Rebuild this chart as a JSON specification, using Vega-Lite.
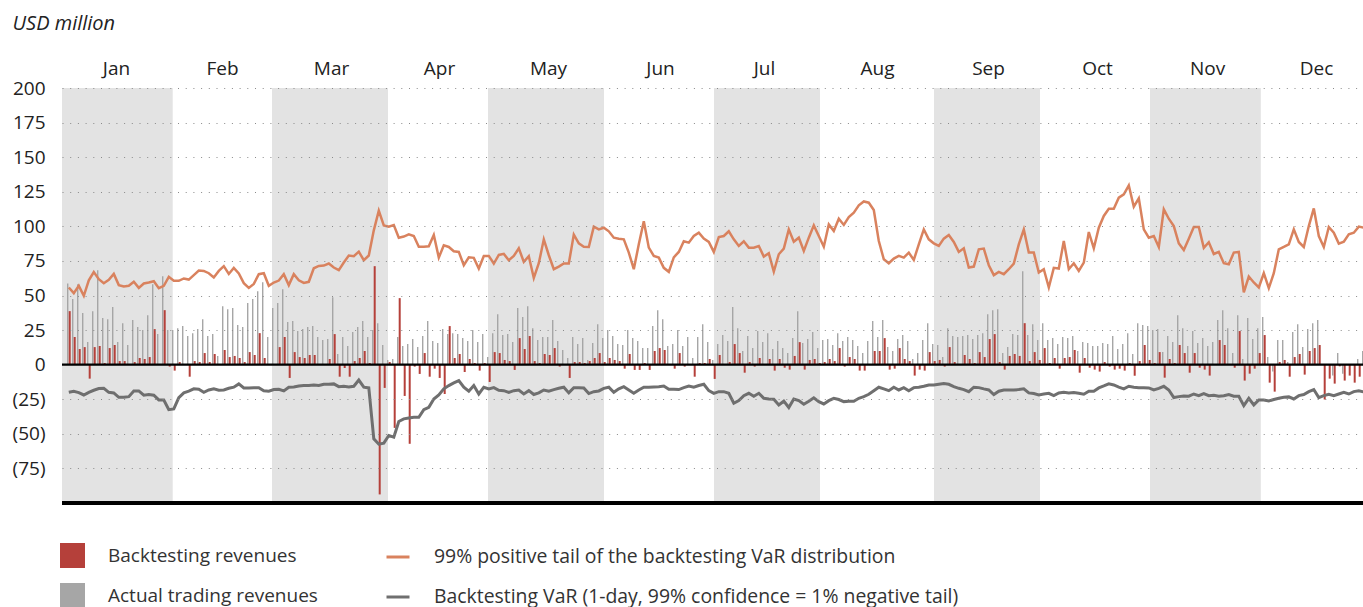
{
"$schema": "https://vega.github.io/schema/vega-lite/v6.json",
"autosize": "none",
"width": 1301,
"height": 415,
"padding": {"left": 62, "top": 88, "right": 0, "bottom": 104},
"config": {"view": {"stroke": null}, "font": "Open Sans"},
"datasets": {
"months": [{"d":-1.36,"d2":20.78},{"d":40.64,"d2":63.84},{"d":83.84,"d2":107.04},{"d":129.04,"d2":150.24},{"d":173.04,"d2":194.24},{"d":216.24,"d2":238.4}],
"refs": [{"r": 0}, {"r": -100}],
"days": [
{"d":0,"a":58.7,"b":38.7,"p":55.8,"v":-20},{"d":1,"a":47.4,"b":20.0,"p":51.7,"v":-19.2},{"d":2,"a":58.2,"b":11.3,"p":57,"v":-20.2},{"d":3,"a":37.3,"b":12.7,"p":49.8,"v":-21.9},{"d":4,"a":16.3,"b":-10.1,"p":61,"v":-20},{"d":5,"a":38.7,"b":12.7,"p":67,"v":-18.5},{"d":6,"a":68.3,"b":13.5,"p":61.8,"v":-17.3},{"d":7,"a":33.7,"b":1.2,"p":58.9,"v":-17.1},{"d":8,"a":32.9,"b":12.0,"p":61.3,"v":-20},{"d":9,"a":41.6,"b":14.2,"p":65.6,"v":-20.4},
{"d":10,"a":16.3,"b":2.6,"p":57.5,"v":-23.6},{"d":11,"a":30.0,"b":2.6,"p":56.5,"v":-23.6},{"d":12,"a":14.2,"b":0,"p":57,"v":-23.1},{"d":13,"a":32.2,"b":1.9,"p":59.9,"v":-19},{"d":14,"a":27.2,"b":4.8,"p":55.5,"v":-19},{"d":15,"a":25.0,"b":4.1,"p":58.7,"v":-22.1},{"d":16,"a":35.8,"b":5.5,"p":59.4,"v":-21.6},{"d":17,"a":58.2,"b":25.7,"p":60.3,"v":-22.1},{"d":18,"a":22.1,"b":0,"p":55.3,"v":-25.5},{"d":19,"a":63.9,"b":39.4,"p":57,"v":-25.5},
{"d":20,"a":25.0,"b":-1.4,"p":63.5,"v":-32.5},{"d":21,"a":25.0,"b":-4.3,"p":60.6,"v":-32},{"d":22,"a":26.4,"b":1.9,"p":60.6,"v":-23.8},{"d":23,"a":27.9,"b":0,"p":62.3,"v":-20.4},{"d":24,"a":20.7,"b":-8.7,"p":61.5,"v":-19.2},{"d":25,"a":22.8,"b":2.6,"p":64.7,"v":-17.5},{"d":26,"a":25.7,"b":1.9,"p":68,"v":-17.8},{"d":27,"a":32.9,"b":8.4,"p":67.8,"v":-20},{"d":28,"a":20.7,"b":1.9,"p":66.1,"v":-18.3},{"d":29,"a":22.1,"b":7.7,"p":63,"v":-17.5},
{"d":30,"a":6.3,"b":0,"p":67.8,"v":-18.5},{"d":31,"a":42.3,"b":10.6,"p":71.2,"v":-18.3},{"d":32,"a":40.1,"b":5.5,"p":65.6,"v":-17.1},{"d":33,"a":40.9,"b":6.3,"p":70,"v":-16.3},{"d":34,"a":28.6,"b":4.8,"p":65.9,"v":-13.9},{"d":35,"a":27.2,"b":1.9,"p":58.9,"v":-16.8},{"d":36,"a":44.5,"b":9.1,"p":55.5,"v":-16.8},{"d":37,"a":47.4,"b":7.0,"p":58.4,"v":-16.6},{"d":38,"a":53.1,"b":22.8,"p":65.4,"v":-16.6},{"d":39,"a":59.6,"b":4.8,"p":66.1,"v":-18.8},
{"d":40,"a":20.0,"b":0,"p":57,"v":-19.2},{"d":41,"a":40.9,"b":0,"p":59.4,"v":-18},{"d":42,"a":44.5,"b":12.7,"p":60.8,"v":-17.8},{"d":43,"a":54.6,"b":20.0,"p":65.4,"v":-19},{"d":44,"a":30.8,"b":-9.6,"p":57.5,"v":-16.3},{"d":45,"a":31.5,"b":9.1,"p":65.4,"v":-16.1},{"d":46,"a":24.3,"b":5.5,"p":61,"v":-15.4},{"d":47,"a":25.7,"b":4.8,"p":59.1,"v":-15.1},{"d":48,"a":27.2,"b":7.0,"p":59.9,"v":-15.1},{"d":49,"a":27.9,"b":7.0,"p":69.7,"v":-14.7},
{"d":50,"a":20.0,"b":0,"p":71.4,"v":-15.1},{"d":51,"a":17.8,"b":0,"p":71.6,"v":-14.2},{"d":52,"a":18.5,"b":4.1,"p":73.1,"v":-14.2},{"d":53,"a":48.8,"b":22.1,"p":70.2,"v":-13.9},{"d":54,"a":7.7,"b":-8.7,"p":68.3,"v":-15.9},{"d":55,"a":20.0,"b":-2.4,"p":73.8,"v":-15.6},{"d":56,"a":13.5,"b":-8.7,"p":78.9,"v":-16.1},{"d":57,"a":23.6,"b":2.6,"p":78.4,"v":-15.6},{"d":58,"a":27.2,"b":4.8,"p":81.7,"v":-11.1},{"d":59,"a":31.5,"b":9.9,"p":75.5,"v":-16.3},
{"d":60,"a":20.0,"b":1.2,"p":78.9,"v":-16.8},{"d":61,"a":25.0,"b":71.2,"p":97.1,"v":-53.6},{"d":62,"a":30.0,"b":-93.8,"p":111.3,"v":-57.5},{"d":63,"a":14.2,"b":-16.8,"p":100.7,"v":-56.7},{"d":64,"a":3.4,"b":1.9,"p":99.8,"v":-51.2},{"d":65,"a":4.1,"b":-45.7,"p":101,"v":-52.4},{"d":66,"a":20.0,"b":48.1,"p":91.8,"v":-41.1},{"d":67,"a":13.5,"b":-22.6,"p":92.6,"v":-39.2},{"d":68,"a":14.9,"b":-57.2,"p":94.2,"v":-38.5},{"d":69,"a":18.5,"b":-1.4,"p":93,"v":-38},
{"d":70,"a":12.7,"b":-6.7,"p":85.3,"v":-38},{"d":71,"a":20.7,"b":8.4,"p":85.3,"v":-32.5},{"d":72,"a":31.5,"b":-8.7,"p":85.6,"v":-30.8},{"d":73,"a":17.1,"b":-2.9,"p":93.8,"v":-24.8},{"d":74,"a":15.6,"b":-9.6,"p":77.4,"v":-21.9},{"d":75,"a":25.7,"b":-21.2,"p":86.3,"v":-17.5},{"d":76,"a":22.1,"b":27.9,"p":85.1,"v":-15.1},{"d":77,"a":22.8,"b":4.8,"p":82,"v":-13.2},{"d":78,"a":22.1,"b":7.7,"p":81.5,"v":-11.5},{"d":79,"a":19.2,"b":-5.3,"p":71.9,"v":-16.3},
{"d":80,"a":17.1,"b":4.1,"p":77.6,"v":-19.2},{"d":81,"a":25.0,"b":1.2,"p":77.2,"v":-15.1},{"d":82,"a":16.3,"b":-4.3,"p":69.5,"v":-21.2},{"d":83,"a":22.1,"b":1.2,"p":78.6,"v":-16.3},{"d":84,"a":5.5,"b":-12.5,"p":78.6,"v":-17.5},{"d":85,"a":22.8,"b":9.1,"p":73.1,"v":-16.6},{"d":86,"a":36.5,"b":8.4,"p":79.3,"v":-18.5},{"d":87,"a":21.4,"b":3.4,"p":80.1,"v":-18.8},{"d":88,"a":22.1,"b":2.6,"p":75.5,"v":-20},{"d":89,"a":16.3,"b":-3.8,"p":78.6,"v":-18.8},
{"d":90,"a":40.9,"b":19.2,"p":84.1,"v":-18.3},{"d":91,"a":34.4,"b":11.3,"p":74.3,"v":-21.2},{"d":92,"a":42.3,"b":20.7,"p":78.4,"v":-18.8},{"d":93,"a":26.4,"b":2.6,"p":62.7,"v":-21.6},{"d":94,"a":17.8,"b":1.2,"p":73.3,"v":-20.4},{"d":95,"a":20.0,"b":7.7,"p":90.6,"v":-18.3},{"d":96,"a":20.0,"b":7.0,"p":79.1,"v":-19.2},{"d":97,"a":32.2,"b":12.0,"p":69,"v":-18},{"d":98,"a":17.1,"b":-1.4,"p":70.9,"v":-17.1},{"d":99,"a":10.6,"b":0,"p":73.1,"v":-16.3},
{"d":100,"a":4.8,"b":-9.6,"p":73.1,"v":-20.4},{"d":101,"a":20.0,"b":1.9,"p":94,"v":-16.6},{"d":102,"a":14.9,"b":1.9,"p":87.7,"v":-16.6},{"d":103,"a":19.2,"b":1.2,"p":85.3,"v":-16.8},{"d":104,"a":3.4,"b":2.6,"p":85.1,"v":-20.9},{"d":105,"a":15.6,"b":4.8,"p":99.8,"v":-19.5},{"d":106,"a":29.3,"b":8.4,"p":97.8,"v":-19},{"d":107,"a":19.2,"b":1.9,"p":99,"v":-17.1},{"d":108,"a":25.0,"b":4.8,"p":96.4,"v":-16.3},{"d":109,"a":20.7,"b":3.4,"p":91.8,"v":-20},
{"d":110,"a":14.9,"b":2.6,"p":91.1,"v":-17.5},{"d":111,"a":14.2,"b":-2.9,"p":90.6,"v":-15.9},{"d":112,"a":25.0,"b":7.7,"p":81,"v":-18.3},{"d":113,"a":19.2,"b":-3.8,"p":69,"v":-20.7},{"d":114,"a":17.1,"b":-3.8,"p":87,"v":-18.3},{"d":115,"a":12.0,"b":1.2,"p":103.6,"v":-16.3},{"d":116,"a":12.0,"b":-3.8,"p":84.6,"v":-16.3},{"d":117,"a":27.9,"b":9.9,"p":78.6,"v":-16.1},{"d":118,"a":39.4,"b":12.0,"p":77.4,"v":-15.9},{"d":119,"a":32.9,"b":10.6,"p":70,"v":-15.4},
{"d":120,"a":13.5,"b":0,"p":67.1,"v":-17.8},{"d":121,"a":14.9,"b":-2.9,"p":77.6,"v":-17.8},{"d":122,"a":25.0,"b":8.4,"p":81.5,"v":-18},{"d":123,"a":13.5,"b":-1.4,"p":89.2,"v":-16.6},{"d":124,"a":20.0,"b":0,"p":88.2,"v":-15.4},{"d":125,"a":4.8,"b":-8.7,"p":93,"v":-16.3},{"d":126,"a":20.0,"b":1.2,"p":95.4,"v":-15.1},{"d":127,"a":29.3,"b":1.2,"p":91.1,"v":-14.2},{"d":128,"a":16.3,"b":4.1,"p":88.7,"v":-18.8},{"d":129,"a":3.4,"b":-10.3,"p":81.5,"v":-20.7},
{"d":130,"a":14.9,"b":7.0,"p":92.3,"v":-19.5},{"d":131,"a":21.4,"b":0,"p":93,"v":-19.5},{"d":132,"a":17.1,"b":1.9,"p":96.4,"v":-20.7},{"d":133,"a":41.6,"b":14.9,"p":90.6,"v":-27.9},{"d":134,"a":26.4,"b":8.4,"p":85.8,"v":-26},{"d":135,"a":9.9,"b":-5.8,"p":89.2,"v":-22.4},{"d":136,"a":20.7,"b":1.9,"p":84.6,"v":-20.7},{"d":137,"a":12.0,"b":-1.4,"p":84.6,"v":-22.8},{"d":138,"a":24.3,"b":4.8,"p":85.8,"v":-20.7},{"d":139,"a":16.3,"b":0,"p":78.1,"v":-24.3},
{"d":140,"a":22.8,"b":4.1,"p":80.5,"v":-24.8},{"d":141,"a":11.3,"b":-4.3,"p":67.3,"v":-25},{"d":142,"a":17.1,"b":4.1,"p":79.8,"v":-29.1},{"d":143,"a":12.0,"b":-2.2,"p":83.9,"v":-26.4},{"d":144,"a":8.4,"b":-3.6,"p":97.8,"v":-31},{"d":145,"a":19.2,"b":6.3,"p":88.9,"v":-24.8},{"d":146,"a":38.7,"b":16.3,"p":91.8,"v":-26},{"d":147,"a":15.6,"b":-3.6,"p":82.2,"v":-28.6},{"d":148,"a":18.5,"b":3.4,"p":91.8,"v":-26.4},{"d":149,"a":23.6,"b":4.1,"p":100.7,"v":-24},
{"d":150,"a":12.0,"b":1.2,"p":93,"v":-26.7},{"d":151,"a":17.8,"b":1.9,"p":85.3,"v":-28.4},{"d":152,"a":18.5,"b":4.1,"p":101.4,"v":-26},{"d":153,"a":14.2,"b":2.6,"p":96.6,"v":-24.3},{"d":154,"a":22.8,"b":12.0,"p":105.5,"v":-25.2},{"d":155,"a":17.1,"b":-1.4,"p":101,"v":-26.7},{"d":156,"a":20.0,"b":5.5,"p":106.7,"v":-26.4},{"d":157,"a":17.8,"b":4.1,"p":109.9,"v":-26.4},{"d":158,"a":13.5,"b":-4.3,"p":115.2,"v":-24.3},{"d":159,"a":8.4,"b":-4.3,"p":118,"v":-23.1},
{"d":160,"a":17.1,"b":0,"p":117.1,"v":-21.4},{"d":161,"a":31.5,"b":9.9,"p":111.8,"v":-18.8},{"d":162,"a":20.0,"b":9.9,"p":89.4,"v":-16.3},{"d":163,"a":32.2,"b":19.2,"p":76.2,"v":-17.5},{"d":164,"a":12.7,"b":-3.6,"p":73.3,"v":-18.8},{"d":165,"a":9.9,"b":-2.9,"p":76.7,"v":-16.3},{"d":166,"a":18.5,"b":12.0,"p":78.6,"v":-18.3},{"d":167,"a":21.4,"b":4.1,"p":77.4,"v":-16.6},{"d":168,"a":17.1,"b":2.6,"p":81,"v":-18.8},{"d":169,"a":4.1,"b":-7.9,"p":75.7,"v":-16.6},
{"d":170,"a":8.4,"b":-3.6,"p":87,"v":-16.3},{"d":171,"a":17.8,"b":-4.3,"p":97.8,"v":-15.6},{"d":172,"a":30.0,"b":9.1,"p":90.6,"v":-14.7},{"d":173,"a":14.9,"b":2.6,"p":87.7,"v":-14.7},{"d":174,"a":14.2,"b":3.4,"p":85.8,"v":-14.2},{"d":175,"a":5.5,"b":-1.4,"p":91.1,"v":-13.7},{"d":176,"a":26.4,"b":12.7,"p":93.8,"v":-14.2},{"d":177,"a":20.7,"b":1.9,"p":88.7,"v":-15.9},{"d":178,"a":20.0,"b":0,"p":81.5,"v":-17.1},{"d":179,"a":20.7,"b":7.0,"p":84.1,"v":-18},
{"d":180,"a":21.4,"b":4.1,"p":70.2,"v":-19.5},{"d":181,"a":18.5,"b":1.2,"p":70.9,"v":-16.3},{"d":182,"a":21.4,"b":9.1,"p":83.4,"v":-16.6},{"d":183,"a":22.8,"b":5.5,"p":83.9,"v":-17.5},{"d":184,"a":36.5,"b":18.5,"p":71.9,"v":-18.3},{"d":185,"a":39.4,"b":22.1,"p":64.7,"v":-21.6},{"d":186,"a":40.1,"b":1.9,"p":67.1,"v":-19.2},{"d":187,"a":8.4,"b":-3.6,"p":65.4,"v":-18.3},{"d":188,"a":12.7,"b":6.3,"p":69,"v":-18.3},{"d":189,"a":22.1,"b":7.7,"p":73.1,"v":-18.3},
{"d":190,"a":21.4,"b":6.3,"p":87,"v":-18},{"d":191,"a":67.6,"b":30.0,"p":97.8,"v":-17.5},{"d":192,"a":21.4,"b":2.6,"p":81,"v":-20.4},{"d":193,"a":29.3,"b":9.1,"p":81,"v":-20.9},{"d":194,"a":17.8,"b":3.4,"p":66.6,"v":-21.9},{"d":195,"a":30.0,"b":12.0,"p":69,"v":-21.2},{"d":196,"a":17.8,"b":1.2,"p":55.8,"v":-20.7},{"d":197,"a":19.2,"b":4.8,"p":70,"v":-22.4},{"d":198,"a":14.9,"b":-2.9,"p":69.5,"v":-20.4},{"d":199,"a":20.0,"b":4.8,"p":89.4,"v":-20},
{"d":200,"a":19.2,"b":5.5,"p":69,"v":-20.4},{"d":201,"a":20.7,"b":10.6,"p":73.3,"v":-20.2},{"d":202,"a":9.9,"b":-5.8,"p":67.8,"v":-20.7},{"d":203,"a":16.3,"b":4.8,"p":73.8,"v":-21.4},{"d":204,"a":15.6,"b":-2.2,"p":95.9,"v":-19.2},{"d":205,"a":13.5,"b":-3.6,"p":84.1,"v":-19.2},{"d":206,"a":13.5,"b":-5.0,"p":99,"v":-16.8},{"d":207,"a":15.6,"b":1.9,"p":107.5,"v":-15.4},{"d":208,"a":14.9,"b":-1.4,"p":112.7,"v":-13.9},{"d":209,"a":20.7,"b":-3.6,"p":112.7,"v":-14.7},
{"d":210,"a":11.3,"b":-2.9,"p":120.7,"v":-16.3},{"d":211,"a":14.9,"b":-4.3,"p":123.1,"v":-17.5},{"d":212,"a":22.8,"b":1.2,"p":129.6,"v":-15.6},{"d":213,"a":7.7,"b":-8.0,"p":114.2,"v":-16.3},{"d":214,"a":30.0,"b":2.6,"p":120.2,"v":-16.6},{"d":215,"a":28.6,"b":14.2,"p":97.8,"v":-16.6},{"d":216,"a":27.9,"b":3.4,"p":91.8,"v":-16.8},{"d":217,"a":25.0,"b":1.2,"p":93,"v":-18.3},{"d":218,"a":25.7,"b":9.1,"p":85.1,"v":-17.1},{"d":219,"a":9.1,"b":-9.4,"p":112.3,"v":-15.6},
{"d":220,"a":20.7,"b":4.1,"p":105.5,"v":-18.3},{"d":221,"a":16.3,"b":1.2,"p":100.2,"v":-23.8},{"d":222,"a":35.8,"b":14.2,"p":87.7,"v":-23.1},{"d":223,"a":26.4,"b":8.4,"p":82.9,"v":-22.6},{"d":224,"a":13.5,"b":-5.8,"p":91.1,"v":-22.8},{"d":225,"a":24.3,"b":8.4,"p":99.5,"v":-21.2},{"d":226,"a":15.6,"b":-2.2,"p":99.5,"v":-22.4},{"d":227,"a":19.2,"b":-3.6,"p":84.4,"v":-20.9},{"d":228,"a":13.5,"b":-7.9,"p":88.5,"v":-22.4},{"d":229,"a":16.3,"b":0,"p":80,"v":-22.2},
{"d":230,"a":32.2,"b":17.8,"p":81.5,"v":-22.8},{"d":231,"a":39.4,"b":14.2,"p":73.3,"v":-22.4},{"d":232,"a":26.4,"b":0,"p":72.6,"v":-21.6},{"d":233,"a":8.4,"b":-2.2,"p":81,"v":-22.8},{"d":234,"a":35.8,"b":24.3,"p":81.5,"v":-22.8},{"d":235,"a":4.1,"b":-11.5,"p":52.2,"v":-29.6},{"d":236,"a":33.7,"b":-6.5,"p":63.7,"v":-24.3},{"d":237,"a":18.5,"b":-2.9,"p":59.4,"v":-29.1},{"d":238,"a":26.4,"b":8.4,"p":55.8,"v":-25.5},{"d":239,"a":34.4,"b":21.4,"p":66.1,"v":-25.5},
{"d":240,"a":5.5,"b":-13.0,"p":55.3,"v":-26.2},{"d":241,"a":-5.0,"b":-19.5,"p":66.1,"v":-25.2},{"d":242,"a":17.8,"b":1.9,"p":83.4,"v":-24.3},{"d":243,"a":17.8,"b":3.4,"p":85.1,"v":-23.6},{"d":244,"a":1.9,"b":-8.7,"p":87,"v":-23.3},{"d":245,"a":23.6,"b":5.5,"p":97.8,"v":-24.8},{"d":246,"a":29.3,"b":7.7,"p":88.7,"v":-22.4},{"d":247,"a":12.7,"b":-7.2,"p":85.1,"v":-21.6},{"d":248,"a":25.7,"b":9.9,"p":100.2,"v":-19.5},{"d":249,"a":30.0,"b":12.0,"p":113,"v":-18},
{"d":250,"a":32.2,"b":14.2,"p":93,"v":-23.8},{"d":251,"a":0,"b":-25.2,"p":85.1,"v":-22.4},{"d":252,"a":0,"b":-10.1,"p":99.5,"v":-21.4},{"d":253,"a":-7.9,"b":-13.7,"p":95.4,"v":-22.4},{"d":254,"a":8.4,"b":-1.2,"p":87.5,"v":-21.2},{"d":255,"a":-6.5,"b":-11.5,"p":88.9,"v":-20},{"d":256,"a":0,"b":-7.9,"p":94.2,"v":-21.2},{"d":257,"a":0,"b":-13.0,"p":95.4,"v":-19.5},{"d":258,"a":4.1,"b":-8.7,"p":99.8,"v":-18.8},{"d":259,"a":9.9,"b":-2.9,"p":99,"v":-19.7}
]
},
"layer": [
{
"encoding": {
"x": {"field": "d", "type": "quantitative", "scale": {"domain": [-1.36, 258.84], "nice": false, "zero": false, "padding": 0},
"axis": {"orient": "top", "title": null, "tickCount": 40, "values": [9.44, 30.64, 52.44, 74.04, 95.84, 118.24, 139.04, 161.64, 183.84, 205.64, 227.64, 249.44],
"labelExpr": "datum.value < 20 ? 'Jan' : datum.value < 40 ? 'Feb' : datum.value < 60 ? 'Mar' : datum.value < 85 ? 'Apr' : datum.value < 105 ? 'May' : datum.value < 130 ? 'Jun' : datum.value < 150 ? 'Jul' : datum.value < 170 ? 'Aug' : datum.value < 195 ? 'Sep' : datum.value < 215 ? 'Oct' : datum.value < 240 ? 'Nov' : 'Dec'",
"domain": false, "ticks": false, "grid": false, "labelFlush": false, "labelOverlap": false, "labelFontSize": 19, "labelColor": "#222222", "labelPadding": 10, "labelFont": "Open Sans"}}
},
"layer": [
{
"data": {"name": "months"},
"mark": {"type": "rect", "color": "#e3e3e3"},
"encoding": {"x2": {"field": "d2"}}
},
{
"data": {"name": "days"},
"mark": {"type": "bar", "width": 1.4, "xOffset": -1.1, "clip": true},
"encoding": {
"y": {"field": "a", "type": "quantitative", "scale": {"domain": [-100, 200], "nice": false},
"axis": {"title": "USD million", "titleAngle": 0, "titleAlign": "left", "titleBaseline": "middle", "titleX": -50, "titleY": -65, "titleFontStyle": "italic", "titleFontWeight": "normal", "titleFontSize": 20, "titleColor": "#222222", "titleFont": "Open Sans",
"tickCount": 40,
"values": [-75, -50, -25, 0, 25, 50, 75, 100, 125, 150, 175, 200],
"labelExpr": "datum.value < 0 ? '(' + (-datum.value) + ')' : datum.label",
"domain": false, "ticks": false, "labelFlush": false, "labelOverlap": false, "labelFontSize": 19, "labelColor": "#222222", "labelPadding": 17, "labelFont": "Open Sans",
"zindex": 1,
"grid": true, "gridColor": "#8a8a8a", "gridDash": [1, 6.7], "gridWidth": 1.2,
"gridOpacity": {"condition": {"test": "datum.value === 0", "value": 0}, "value": 1}}},
"fill": {"datum": "Actual trading revenues", "type": "nominal",
"scale": {"domain": ["Backtesting revenues", "Actual trading revenues"], "range": ["#b5403a", "#a6a6a6"]},
"legend": {"orient": "none", "legendX": -2, "legendY": 455, "title": null, "direction": "vertical", "symbolType": "square", "symbolSize": 625, "symbolStrokeWidth": 0, "labelFontSize": 19, "labelFont": "Open Sans", "labelColor": "#333333", "labelOffset": 23, "labelLimit": 0, "rowPadding": 15, "padding": 0}}
}
},
{
"data": {"name": "days"},
"mark": {"type": "bar", "width": 2, "xOffset": 0.9, "clip": true},
"encoding": {
"y": {"field": "b", "type": "quantitative", "title": "USD million"},
"fill": {"datum": "Backtesting revenues", "type": "nominal"}
}
},
{
"data": {"name": "days"},
"mark": {"type": "line", "strokeWidth": 2.5, "clip": true},
"encoding": {
"y": {"field": "p", "type": "quantitative", "title": "USD million"},
"stroke": {"datum": "99% positive tail of the backtesting VaR distribution", "type": "nominal",
"scale": {"domain": ["99% positive tail of the backtesting VaR distribution", "Backtesting VaR (1-day, 99% confidence = 1% negative tail)"], "range": ["#d9825e", "#6f6f6f"]},
"legend": {"orient": "none", "legendX": 323, "legendY": 456, "title": null, "direction": "vertical", "symbolType": "stroke", "symbolSize": 529, "symbolStrokeWidth": 3, "labelFontSize": 19.4, "labelFont": "Open Sans", "labelColor": "#333333", "labelOffset": 23, "labelLimit": 0, "rowPadding": 17, "padding": 0}}
}
},
{
"data": {"name": "days"},
"mark": {"type": "line", "strokeWidth": 3, "clip": true},
"encoding": {
"y": {"field": "v", "type": "quantitative", "title": "USD million"},
"stroke": {"datum": "Backtesting VaR (1-day, 99% confidence = 1% negative tail)", "type": "nominal"}
}
}
]
},
{
"data": {"name": "refs"},
"mark": {"type": "rule", "color": "#000000"},
"encoding": {
"y": {"field": "r", "type": "quantitative", "title": "USD million"},
"strokeWidth": {"condition": {"test": "datum.r === 0", "value": 2.2}, "value": 4}
}
}
]
}
